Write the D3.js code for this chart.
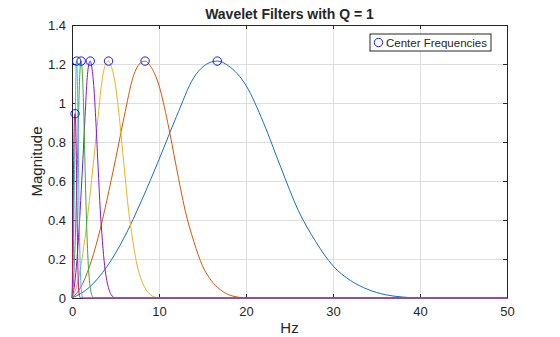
<!DOCTYPE html>
<html lang="en">

<head>
  <meta charset="UTF-8">
  <title>Wavelet Filters</title>
  <script src="https://cdn.jsdelivr.net/npm/d3@7"></script>
  <style>
    body {
      margin: 0;
      background: #fff;
    }

    svg text {
      font-family: "Liberation Sans", Arial, Helvetica, sans-serif;
      fill: #262626;
    }
  </style>
</head>

<body>
  <div id="container"></div>

  <script>
    const svg_width = 560;
    const svg_height = 337;
    const margin = { left: 72, top: 25, right: 53, bottom: 39 };
    const plot_w = svg_width - margin.left - margin.right;
    const plot_h = svg_height - margin.top - margin.bottom;

    // tick labels
    var xTicks = [0, 10, 20, 30, 40, 50];
    var yTicks = [0, 0.2, 0.4, 0.6, 0.8, 1, 1.2, 1.4];

    // magnitude values, one list per filter
    var blueHz = [0, 2, 4, 6, 8, 10, 12, 14, 16, 16.7, 18, 20, 22, 24, 26, 28, 30, 32, 34, 36, 38, 40, 50];
    var orangeHz = [0, 1, 2, 3, 4, 5, 6, 7, 8, 8.4, 9, 10, 11, 12, 13, 14, 15, 16, 17, 18, 19, 20, 50];
    var yellowHz = [0, 0.5, 1, 1.5, 2, 2.5, 3, 3.5, 4, 4.2, 4.5, 5, 5.5, 6, 6.5, 7, 7.5, 8, 8.5, 9, 9.5, 10, 50];
    var purpleHz = [0, 0.25, 0.5, 0.75, 1, 1.25, 1.5, 1.75, 2, 2.1, 2.25, 2.5, 2.75, 3, 3.25, 3.5, 3.75, 4, 4.25, 4.5, 4.75, 5, 50];
    var greenHz = [0, 0.13, 0.25, 0.38, 0.5, 0.63, 0.75, 0.88, 1, 1.05, 1.13, 1.25, 1.38, 1.5, 1.63, 1.75, 1.88, 2, 2.13, 2.25, 2.38, 2.5, 50];
    var cyanHz = [0, 0.06, 0.13, 0.19, 0.25, 0.31, 0.38, 0.44, 0.5, 0.53, 0.56, 0.63, 0.69, 0.75, 0.81, 0.88, 0.94, 1, 1.06, 1.13, 1.19, 1.25, 50];
    var bandMag = [0, 0.055, 0.16, 0.31, 0.5, 0.71, 0.93, 1.13, 1.21, 1.215, 1.19, 1.09, 0.9, 0.67, 0.45, 0.29, 0.165, 0.09, 0.044, 0.017, 0.005, 0, 0];
    var magentaHz = [0, 0.05, 0.1, 0.15, 0.2, 0.25, 0.3, 0.35, 0.4, 0.45, 0.5, 0.55, 0.6, 0.65, 0.7, 0.8, 0.9, 1, 50];
    var magentaMag = [0, 0.1, 0.3, 0.55, 0.75, 0.88, 0.94, 0.945, 0.92, 0.85, 0.72, 0.55, 0.38, 0.22, 0.12, 0.03, 0.005, 0, 0];

    // center frequency markers
    var centerHz = [16.7, 8.4, 4.2, 2.1, 1.05, 0.53, 0.35];
    var centerMag = [1.215, 1.215, 1.215, 1.215, 1.215, 1.215, 0.945];

    var series = [
      { hz: blueHz, mag: bandMag, color: '#1171BE' },
      { hz: orangeHz, mag: bandMag, color: '#DD5400' },
      { hz: yellowHz, mag: bandMag, color: '#EDB120' },
      { hz: purpleHz, mag: bandMag, color: '#8516D1' },
      { hz: greenHz, mag: bandMag, color: '#3BAA32' },
      { hz: cyanHz, mag: bandMag, color: '#2FBEEF' },
      { hz: magentaHz, mag: magentaMag, color: '#D1048B' }
    ];

    var svg = d3.select('#container')
      .append('svg')
      .attr('width', svg_width)
      .attr('height', svg_height);

    var x_scale = d3.scaleLinear().domain([0, 50]).range([0, plot_w]);
    var y_scale = d3.scaleLinear().domain([0, 1.4]).range([plot_h, 0]);

    var g = svg.append('g')
      .attr('transform', 'translate(' + margin.left + ',' + margin.top + ')');

    // grid
    g.append('g')
      .attr('class', 'grid')
      .attr('transform', 'translate(0,' + plot_h + ')')
      .call(d3.axisBottom(x_scale).tickValues(xTicks).tickSize(-plot_h).tickFormat(''));
    g.append('g')
      .attr('class', 'grid')
      .call(d3.axisLeft(y_scale).tickValues(yTicks).tickSize(-plot_w).tickFormat(''));
    g.selectAll('.grid line').attr('stroke', '#dedede').attr('stroke-width', 1);
    g.selectAll('.grid .domain').remove();

    // axes, ticks pointing inward on all four sides
    var xb = g.append('g')
      .attr('transform', 'translate(0,' + plot_h + ')')
      .call(d3.axisBottom(x_scale).tickValues(xTicks).tickSizeInner(-4).tickSizeOuter(0).tickPadding(9));
    var xt = g.append('g')
      .call(d3.axisTop(x_scale).tickValues(xTicks).tickSizeInner(-4).tickSizeOuter(0).tickFormat(''));
    var yl = g.append('g')
      .call(d3.axisLeft(y_scale).tickValues(yTicks).tickSizeInner(-4).tickSizeOuter(0).tickPadding(6)
        .tickFormat(function (d) { return d3.format('~g')(d); }));
    var yr = g.append('g')
      .attr('transform', 'translate(' + plot_w + ',0)')
      .call(d3.axisRight(y_scale).tickValues(yTicks).tickSizeInner(-4).tickSizeOuter(0).tickFormat(''));

    [xb, xt, yl, yr].forEach(function (a) {
      a.selectAll('path, line').attr('stroke', '#262626');
      a.selectAll('text').attr('fill', '#262626').style('font-size', '13px');
    });

    // filter curves
    var line = d3.line()
      .x(function (d) { return x_scale(d[0]); })
      .y(function (d) { return y_scale(d[1]); })
      .curve(d3.curveMonotoneX);

    g.append('g')
      .selectAll('path')
      .data(series)
      .enter()
      .append('path')
      .attr('d', function (s) {
        return line(s.hz.map(function (h, i) { return [h, s.mag[i]]; }));
      })
      .attr('fill', 'none')
      .attr('stroke', function (s) { return s.color; })
      .attr('stroke-width', 1);

    // center frequency circles
    g.append('g')
      .selectAll('circle')
      .data(centerHz)
      .enter()
      .append('circle')
      .attr('cx', function (d) { return x_scale(d); })
      .attr('cy', function (d, i) { return y_scale(centerMag[i]); })
      .attr('r', 4.2)
      .attr('fill', 'none')
      .attr('stroke', '#0000ff')
      .attr('stroke-width', 0.9);

    // legend
    var lg = g.append('g').attr('transform', 'translate(298,9)');
    lg.append('rect')
      .attr('width', 121)
      .attr('height', 17)
      .attr('fill', '#fff')
      .attr('stroke', '#262626')
      .attr('stroke-width', 1);
    lg.append('circle')
      .attr('cx', 8.5)
      .attr('cy', 8.5)
      .attr('r', 4.2)
      .attr('fill', 'none')
      .attr('stroke', '#0000ff')
      .attr('stroke-width', 0.9);
    lg.append('text')
      .attr('x', 16)
      .attr('y', 12.5)
      .style('font-size', '11.5px')
      .text('Center Frequencies');

    // title and labels
    svg.append('text')
      .attr('x', margin.left + plot_w / 2)
      .attr('y', 19)
      .attr('text-anchor', 'middle')
      .style('font-size', '14px')
      .style('font-weight', 'bold')
      .text('Wavelet Filters with Q = 1');

    svg.append('text')
      .attr('x', margin.left + plot_w / 2)
      .attr('y', 333)
      .attr('text-anchor', 'middle')
      .style('font-size', '15px')
      .text('Hz');

    svg.append('text')
      .attr('transform', 'translate(42,' + (margin.top + plot_h / 2) + ') rotate(-90)')
      .attr('text-anchor', 'middle')
      .style('font-size', '15px')
      .text('Magnitude');
  </script>

</body>

</html>
